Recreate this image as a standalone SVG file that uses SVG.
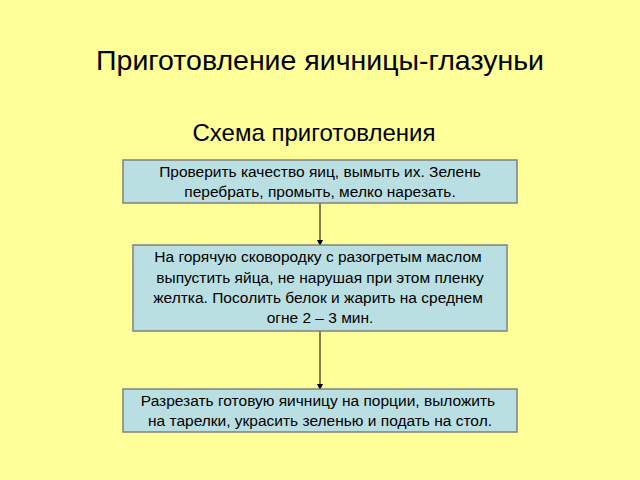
<svg xmlns="http://www.w3.org/2000/svg" width="640" height="480" viewBox="0 0 640 480">
<style>
.box{fill:#b9dfe3;stroke:#808080;stroke-width:1.5}
.t{font-family:"Liberation Sans",Arial,sans-serif;font-size:15.5px;fill:#000;text-anchor:middle}
.c{stroke:#000;stroke-width:1;fill:none}
</style>
<defs><marker id="a" markerWidth="6" markerHeight="6" refX="5" refY="3" orient="auto" markerUnits="userSpaceOnUse"><path d="M0,0L6,3L0,6z" fill="#000"/></marker></defs>
<rect width="640" height="480" fill="#ffff99"/>
<text x="320" y="70" font-family="Liberation Sans,Arial,sans-serif" font-size="28.5" text-anchor="middle">Приготовление яичницы-глазуньи</text>
<text x="314" y="141" font-family="Liberation Sans,Arial,sans-serif" font-size="24" text-anchor="middle">Схема приготовления</text>
<g id="connectors">
<line class="c" x1="320" y1="203" x2="320" y2="245" marker-end="url(#a)"/>
<line class="c" x1="320" y1="331" x2="320" y2="389" marker-end="url(#a)"/>
</g>
<g id="n1"><rect class="box" x="123" y="160" width="394" height="43"/>
<text class="t" x="320" y="177">Проверить качество яиц, вымыть их. Зелень</text>
<text class="t" x="320" y="197">перебрать, промыть, мелко нарезать.</text></g>
<g id="n2"><rect class="box" x="133" y="245" width="374" height="86"/>
<text class="t" x="318" y="262">На горячую сковородку с разогретым маслом</text>
<text class="t" x="320" y="283">выпустить яйца, не нарушая при этом пленку</text>
<text class="t" x="318" y="303">желтка. Посолить белок и жарить на среднем</text>
<text class="t" x="320" y="323">огне 2 – 3 мин.</text></g>
<g id="n3"><rect class="box" x="123" y="389" width="394" height="43"/>
<text class="t" x="318" y="406">Разрезать готовую яичницу на порции, выложить</text>
<text class="t" x="320" y="426">на тарелки, украсить зеленью и подать на стол.</text></g>
</svg>
